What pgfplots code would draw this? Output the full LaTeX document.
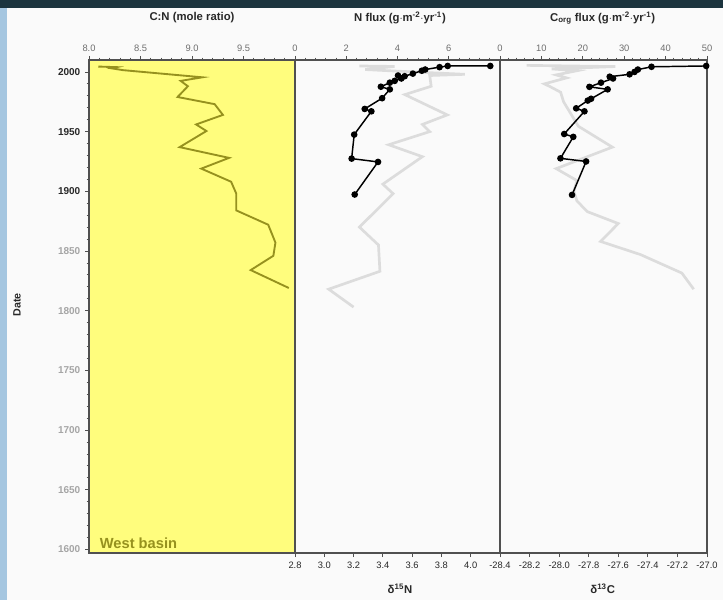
\documentclass[border=0pt]{standalone}
\usepackage{fontspec}
\setmainfont{Liberation Sans}
\usepackage{pgfplots}
\pgfplotsset{compat=1.18}
\definecolor{olivel}{RGB}{150,145,30}
\definecolor{yel}{RGB}{255,253,125}
\definecolor{framec}{RGB}{80,80,80}
\definecolor{lgrey}{RGB}{220,220,220}
\definecolor{topband}{RGB}{28,52,62}
\definecolor{lblue}{RGB}{165,198,224}
\definecolor{tdark}{RGB}{40,40,40}
\definecolor{tlight}{RGB}{165,165,165}
\definecolor{tmid}{RGB}{110,110,110}

\pgfplotstableread{
cn year
8.09 2004.5
8.27 2004
8.22 2003
8.33 2001.5
9.10 1995.5
8.89 1992.5
8.96 1988
8.86 1979
9.22 1973
9.30 1964
9.04 1956
9.14 1950.5
8.88 1937
9.36 1928
9.09 1919
9.38 1908
9.43 1898
9.43 1884
9.74 1872
9.81 1857
9.79 1846
9.57 1834
9.94 1819
}\cntable

\pgfplotstableread{
nflux year
7.62 2005
5.96 2005
5.64 2004
5.08 2002
4.95 2001
4.60 1998.6
4.28 1996.4
4.02 1997
4.15 1994.5
3.89 1992.5
3.70 1991
3.35 1987.6
3.70 1985.4
3.40 1978
2.72 1969
2.98 1967
2.31 1947.5
2.21 1927.4
3.24 1924.6
2.33 1897.3
}\nfluxtable

\pgfplotstableread{
dn year
3.24 2005
3.48 2004.6
3.28 2002
3.44 2001
3.96 1998
3.72 1997
3.73 1988
3.55 1981
3.84 1964
3.67 1956
3.72 1950
3.44 1939
3.67 1929
3.40 1906
3.47 1898
3.24 1870
3.37 1855
3.38 1833
3.03 1818
3.20 1803
}\dntable

\pgfplotstableread{
cflux year
49.8 2005
36.6 2004.3
33.3 2002
32.5 2000
31.3 1998
26.5 1996
27.3 1994.5
24.4 1991
21.6 1987.5
26.0 1985.4
22.0 1977.5
21.2 1976
18.4 1969.5
20.4 1967
15.5 1948
17.7 1945.6
14.6 1927.6
20.8 1925
17.4 1897
}\cfluxtable

\pgfplotstableread{
dc year
-28.22 2005.5
-27.62 2004.5
-28.05 2002.5
-27.88 2001
-28.02 1997.5
-27.95 1995
-28.10 1990
-28.06 1987.6
-27.99 1983
-27.97 1975
-27.87 1954.5
-27.64 1937
-28.02 1919
-27.88 1909
-27.90 1900
-27.88 1892
-27.81 1883
-27.60 1873
-27.72 1858
-27.45 1847
-27.17 1831.5
-27.09 1818
}\dctable

\pgfplotsset{
  panel/.style={
    scale only axis, height=369.75pt,
    ymin=1597, ymax=2010, anchor=south west,
    axis line style={draw=framec, line width=1.1pt, -},
    tick style={draw=framec, line width=0.6pt},
    tick align=outside, major tick length=3pt, minor tick length=1.8pt,
    ytick=\empty,
    every tick label/.append style={font=\fontsize{7}{8}\selectfont},
    /pgf/number format/assume math mode=true,
  },
  toppanel/.style={panel,
    axis x line*=top, axis y line=none,
    xtick pos=right, xticklabel pos=right,
    minor x tick num=4,
    xticklabel style={text=tmid},
  },
  botpanel/.style={panel,
    xtick pos=left, xticklabel pos=left,
    xticklabel style={text=tdark},
  },
}

\begin{document}
\begin{tikzpicture}
\path[use as bounding box] (0,0) rectangle (542.25pt,450pt);
\fill[white!98!black] (0,0) rectangle (542.25pt,450pt);
\fill[topband] (0,444pt) rectangle (542.25pt,450pt);
\fill[lblue] (0,0) rectangle (5.25pt,444pt);

% Panel 1: C:N
\begin{axis}[panel, at={(66.75pt,35.25pt)}, width=154.5pt,
  xmin=8, xmax=10,
  axis background/.style={fill=yel},
  xtick={8,8.5,9,9.5,10}, xticklabels={8.0,8.5,9.0,9.5,{}},
  xtick pos=right, xticklabel pos=right, minor x tick num=4,
  xticklabel style={text=tmid},
  ytick={1600,1650,1700,1750,1800,1850,1900,1950,2000},
  yticklabels={\textcolor{tlight}{1600},\textcolor{tlight}{1650},\textcolor{tlight}{1700},\textcolor{tlight}{1750},\textcolor{tlight}{1800},\textcolor{tlight}{1850},\textcolor{tdark}{1900},\textcolor{tdark}{1950},\textcolor{tdark}{2000}},
  ytick pos=left, yticklabel pos=left, minor y tick num=4,
  yticklabel style={font=\fontsize{7.5}{8}\selectfont\bfseries},
]
\addplot[olivel, line width=1.4pt] table[x=cn, y=year] {\cntable};
\draw[olivel, line width=1.2pt] (rel axis cs:1,0) -- (rel axis cs:1,1);
\node[anchor=base west, text=olivel, font=\fontsize{11}{12}\selectfont\bfseries] at (axis cs:8.06,1601) {West basin};
\end{axis}

% Panel 2 bottom: delta 15N
\begin{axis}[botpanel, at={(221.25pt,35.25pt)}, width=153.75pt,
  xmin=2.8, xmax=4.2,
  xtick={2.8,3.0,3.2,3.4,3.6,3.8,4.0,4.2},
  xticklabels={2.8,3.0,3.2,3.4,3.6,3.8,4.0,{}},
]
\addplot[lgrey, line width=2pt] table[x=dn, y=year] {\dntable};
\end{axis}
% Panel 2 top: N flux
\begin{axis}[toppanel, at={(221.25pt,35.25pt)}, width=153.75pt,
  xmin=0, xmax=8,
  xtick={0,2,4,6,8}, xticklabels={0,2,4,6,{}},
]
\addplot[black, line width=1.1pt, mark=*, mark size=1.9pt] table[x=nflux, y=year] {\nfluxtable};
\end{axis}

% Panel 3 bottom: delta 13C
\begin{axis}[botpanel, at={(375pt,35.25pt)}, width=155.25pt,
  xmin=-28.4, xmax=-27.0,
  xtick={-28.4,-28.2,-28.0,-27.8,-27.6,-27.4,-27.2,-27.0},
  xticklabels={-28.4,-28.2,-28.0,-27.8,-27.6,-27.4,-27.2,-27.0},
]
\addplot[lgrey, line width=2pt] table[x=dc, y=year] {\dctable};
\end{axis}
% Panel 3 top: C flux
\begin{axis}[toppanel, at={(375pt,35.25pt)}, width=155.25pt,
  xmin=0, xmax=50,
  xtick={0,10,20,30,40,50}, xticklabels={0,10,20,30,40,50},
]
\addplot[black, line width=1.1pt, mark=*, mark size=1.9pt] table[x=cflux, y=year] {\cfluxtable};
\end{axis}

% Titles and labels
\node[font=\fontsize{8.5}{10}\selectfont\bfseries, text=tdark] at (144pt,436.5pt) {C:N (mole ratio)};
\node[font=\fontsize{8.5}{10}\selectfont\bfseries, text=tdark] at (300pt,436.5pt) {N flux (g$\cdot$m\textsuperscript{-2}$\cdot$yr\textsuperscript{-1})};
\node[font=\fontsize{8.5}{10}\selectfont\bfseries, text=tdark] at (452pt,436.5pt) {C\textsubscript{org} flux (g$\cdot$m\textsuperscript{-2}$\cdot$yr\textsuperscript{-1})};
\node[font=\fontsize{8.5}{10}\selectfont\bfseries, text=tdark] at (300pt,8.25pt) {δ\textsuperscript{15}N};
\node[font=\fontsize{8.5}{10}\selectfont\bfseries, text=tdark] at (452pt,8.25pt) {δ\textsuperscript{13}C};
\node[font=\fontsize{8}{10}\selectfont\bfseries, text=tdark, rotate=90] at (12.75pt,221.25pt) {Date};
\end{tikzpicture}
\end{document}
